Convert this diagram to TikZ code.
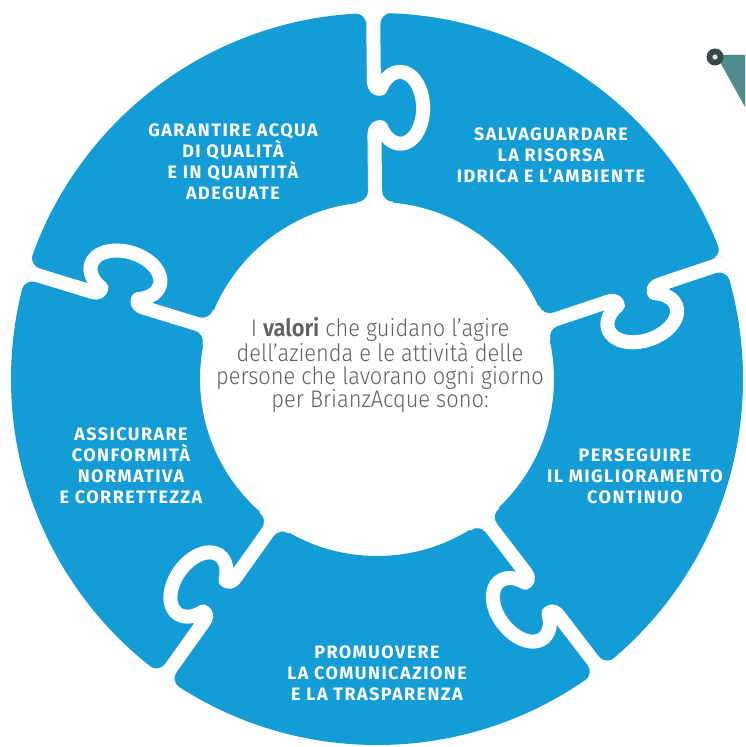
\documentclass[tikz,border=0pt]{standalone}
\usepackage{fontspec}
\setmainfont{Fira Sans}
\newfontfamily\labelfont[LetterSpace=8]{Fira Sans}
\IfFontExistsTF{Fira Sans Light}
  {\newfontfamily\centerfont[FakeStretch=0.91]{Fira Sans Light}}
  {\newfontfamily\centerfont[FakeStretch=0.91]{Fira Sans}}
\IfFontExistsTF{Fira Sans SemiBold}
  {\newfontfamily\centerbold[FakeStretch=0.91]{Fira Sans SemiBold}}
  {\newfontfamily\centerbold[FakeStretch=0.91]{Fira Sans Bold}}
\definecolor{pblue}{HTML}{149CD6}
\definecolor{ctext}{HTML}{606060}
\definecolor{tealdec}{HTML}{4E8B8D}
\definecolor{darkdec}{HTML}{37474A}
\begin{document}
\begin{tikzpicture}[x=1pt,y=1pt,
  gapline/.style={white, line width=14pt, line join=round, line cap=butt},
  fillet/.style={fill=white, draw=none},
  lbl/.style={text=white, align=center, inner sep=0pt,
    font=\labelfont\bfseries\fontsize{18}{21}\selectfont},
  ctrtext/.style={text=ctext, align=center, inner sep=0pt,
    font=\centerfont\fontsize{24}{23.3}\selectfont}]
\useasboundingbox (0,0) rectangle (745,747);
\clip (0,0) rectangle (745,747);
\coordinate (c) at (377,368);
% ring
\fill[pblue, even odd rule] (c) circle[radius=366] (c) circle[radius=177];
% gaps with knobs (knob points clockwise)
\foreach \a in {90.6,18.5,-52.5,-125.5,163}{
  \begin{scope}[shift={(c)}, rotate=\a]
    \draw[gapline] (386,0) -- (299,0)
      .. controls (292,0) and (290.08,-2) .. (290.08,-6.49)
      arc[start angle=58, end angle=-238, x radius=36, y radius=23]
      .. controls (251.92,-2) and (250,0) .. (243,0) -- (160,0);
    \fill[fillet] (355,7) -- (369,7) -- (369,18) -- (366,18)
      arc[start angle=0, end angle=-90, radius=11] -- cycle;
    \fill[fillet] (355,-7) -- (369,-7) -- (369,-18) -- (366,-18)
      arc[start angle=0, end angle=90, radius=11] -- cycle;
    \fill[fillet] (188,7) -- (174,7) -- (174,18) -- (177,18)
      arc[start angle=180, end angle=270, radius=11] -- cycle;
    \fill[fillet] (188,-7) -- (174,-7) -- (174,-18) -- (177,-18)
      arc[start angle=180, end angle=90, radius=11] -- cycle;
  \end{scope}
}
% decoration top right
\fill[tealdec] (720,692) -- (745,692) -- (745,640) -- (720,685) -- cycle;
\fill[darkdec] (715,690) circle[radius=8.5];
\fill[white!85!tealdec] (715,690) circle[radius=2.6];
% labels
\node[lbl] (garantire) at (233,585.5) {GARANTIRE ACQUA\\DI QUALITÀ\\E IN QUANTITÀ\\ADEGUATE};
\node[lbl] (salvaguardare) at (551,591.6) {SALVAGUARDARE\\LA RISORSA\\IDRICA E L’AMBIENTE};
\node[lbl] (perseguire) at (635,271.2) {PERSEGUIRE\\IL MIGLIORAMENTO\\CONTINUO};
\node[lbl] (promuovere) at (377,74) {PROMUOVERE\\LA COMUNICAZIONE\\E LA TRASPARENZA};
\node[lbl] (assicurare) at (131,281.4) {ASSICURARE\\CONFORMITÀ\\NORMATIVA\\E CORRETTEZZA};
\node[ctrtext] (centre) at (380,382) {I {\centerbold valori} che guidano l’agire\\dell’azienda e le attività delle\\persone che lavorano ogni giorno\\per BrianzAcque sono:};
\end{tikzpicture}
\end{document}
